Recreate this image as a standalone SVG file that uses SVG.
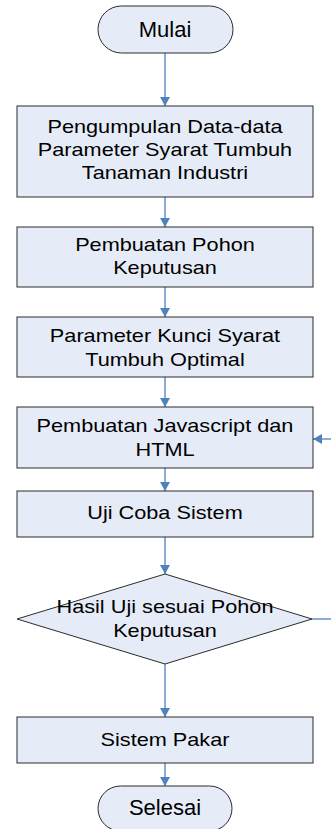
<svg xmlns="http://www.w3.org/2000/svg" width="331" height="829" viewBox="0 0 331 829">
  <style>
    .shape { fill: #e6ecf7; stroke: #2b2b2b; stroke-width: 1; }
    .link { fill: none; stroke: #4f81bd; stroke-width: 1.3; }
    .lbl { font-family: "Liberation Sans", Arial, sans-serif; font-size: 18.7px; fill: #000; text-anchor: middle; }
    .term { font-family: "Liberation Sans", Arial, sans-serif; font-size: 22px; fill: #000; text-anchor: middle; }
  </style>
  <defs>
    <marker id="arrow" markerUnits="userSpaceOnUse" markerWidth="10" markerHeight="10" refX="9" refY="5" orient="auto">
      <path d="M0,0 L9,5 L0,10 z" fill="#4f81bd"/>
    </marker>
  </defs>
  <rect width="331" height="829" fill="#ffffff"/>

  <!-- connectors -->
  <g id="connectors">
    <line class="link" x1="165" y1="53" x2="165" y2="106" marker-end="url(#arrow)"/>
    <line class="link" x1="165" y1="197" x2="165" y2="227" marker-end="url(#arrow)"/>
    <line class="link" x1="165" y1="287" x2="165" y2="317" marker-end="url(#arrow)"/>
    <line class="link" x1="165" y1="377" x2="165" y2="407" marker-end="url(#arrow)"/>
    <line class="link" x1="165" y1="468" x2="165" y2="491" marker-end="url(#arrow)"/>
    <line class="link" x1="165" y1="537" x2="165" y2="574" marker-end="url(#arrow)"/>
    <line class="link" x1="165" y1="664" x2="165" y2="717" marker-end="url(#arrow)"/>
    <line class="link" x1="165" y1="763" x2="165" y2="786" marker-end="url(#arrow)"/>
    <!-- feedback path from the decision back into the coding step -->
    <line class="link" x1="312" y1="619" x2="331" y2="619"/>
    <line class="link" x1="331" y1="439" x2="313" y2="439" marker-end="url(#arrow)"/>
  </g>

  <g id="mulai">
    <rect class="shape" x="98" y="6" width="135" height="47" rx="23.5" ry="23.5"/>
    <text class="term" x="165" y="37">Mulai</text>
  </g>

  <g id="pengumpulan">
    <rect class="shape" x="17" y="106" width="296" height="91"/>
    <g transform="matrix(1.16 0 0 1 -26.4 0)">
      <text class="lbl" x="165" y="133">Pengumpulan Data-data</text>
      <text class="lbl" x="165" y="156">Parameter Syarat Tumbuh</text>
      <text class="lbl" x="165" y="179">Tanaman Industri</text>
    </g>
  </g>

  <g id="pohon">
    <rect class="shape" x="17" y="227" width="296" height="60"/>
    <g transform="matrix(1.16 0 0 1 -26.4 0)">
      <text class="lbl" x="165" y="251">Pembuatan Pohon</text>
      <text class="lbl" x="165" y="274">Keputusan</text>
    </g>
  </g>

  <g id="parameter">
    <rect class="shape" x="17" y="317" width="296" height="60"/>
    <g transform="matrix(1.16 0 0 1 -26.4 0)">
      <text class="lbl" x="165" y="342">Parameter Kunci Syarat</text>
      <text class="lbl" x="165" y="366">Tumbuh Optimal</text>
    </g>
  </g>

  <g id="javascript">
    <rect class="shape" x="17" y="407" width="296" height="61"/>
    <g transform="matrix(1.16 0 0 1 -26.4 0)">
      <text class="lbl" x="165" y="432">Pembuatan Javascript dan</text>
      <text class="lbl" x="165" y="456">HTML</text>
    </g>
  </g>

  <g id="ujicoba">
    <rect class="shape" x="17" y="491" width="296" height="46"/>
    <g transform="matrix(1.16 0 0 1 -26.4 0)">
      <text class="lbl" x="165" y="519">Uji Coba Sistem</text>
    </g>
  </g>

  <g id="hasil">
    <polygon class="shape" points="165,574 312,619 165,664 17,619"/>
    <g transform="matrix(1.16 0 0 1 -26.4 0)">
      <text class="lbl" x="165" y="613">Hasil Uji sesuai Pohon</text>
      <text class="lbl" x="165" y="637">Keputusan</text>
    </g>
  </g>

  <g id="pakar">
    <rect class="shape" x="17" y="717" width="296" height="46"/>
    <g transform="matrix(1.16 0 0 1 -26.4 0)">
      <text class="lbl" x="165" y="746">Sistem Pakar</text>
    </g>
  </g>

  <g id="selesai">
    <rect class="shape" x="98" y="786" width="134" height="45" rx="22.5" ry="22.5"/>
    <text class="term" x="165" y="815">Selesai</text>
  </g>
</svg>
